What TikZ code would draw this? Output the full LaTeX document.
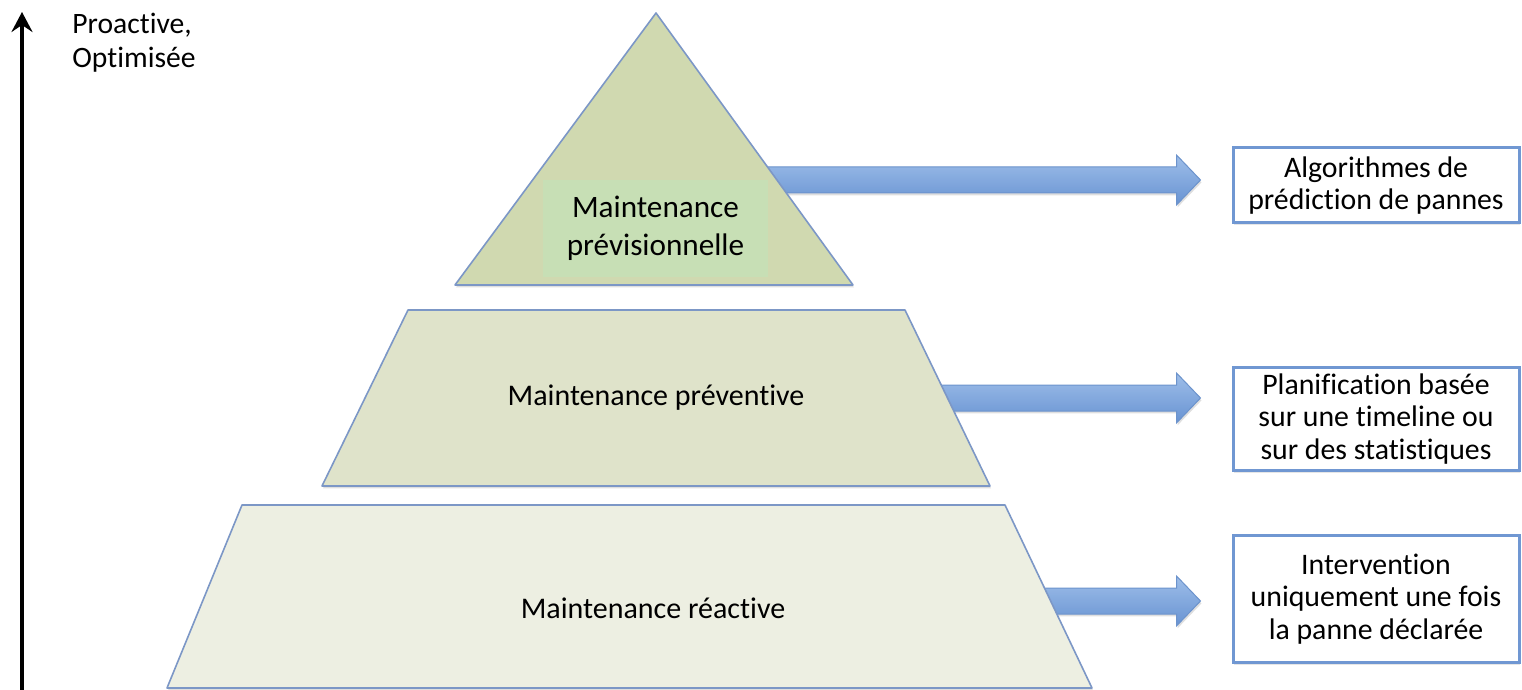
\documentclass[tikz,border=0pt]{standalone}
\usepackage{fontspec}
\setmainfont{Carlito}[Ligatures={NoCommon,NoContextual}]
\usetikzlibrary{calc, arrows.meta, shadows}
\definecolor{EdgeBlue}{HTML}{7C97C6}
\definecolor{BoxBlue}{HTML}{7097D2}
\definecolor{ArrowLight}{HTML}{9EBEE9}
\definecolor{ArrowDark}{HTML}{6893D2}
\definecolor{ArrowEdge}{HTML}{6C93CC}
\definecolor{TopGreen}{HTML}{D0D9B0}
\definecolor{LabelGreen}{HTML}{C7DFB5}
\definecolor{MidGreen}{HTML}{DFE3CA}
\definecolor{LowGreen}{HTML}{EDEFE2}
\newcommand{\Px}{0.5pt}
\def\Boxes{1/599/127/{Intervention\\uniquement une fois\\la panne déclarée}, 2/419/103/{Planification basée\\sur une timeline ou\\sur des statistiques}, 3/185.5/75/{Algorithmes de\\prédiction de pannes}}
\tikzset{
	Level/.style={
		draw=EdgeBlue,
		line width=0.8pt,
		line join=round,
		drop shadow={shadow xshift=0.5pt, shadow yshift=-1.2pt, opacity=0.25},
	},
	LevelText/.style={
		inner sep=0pt,
		align=center,
		font=\fontsize{15}{18}\selectfont,
	},
	Box/.style={
		draw=BoxBlue,
		line width=1.5pt,
		fill=white,
		align=center,
		inner sep=0pt,
		minimum width=143pt,
		font=\fontsize{14.9}{16.2}\selectfont,
		drop shadow={shadow xshift=0.5pt, shadow yshift=-1pt, opacity=0.2},
	},
	Arrow/.style={
		draw=ArrowEdge,
		line width=0.5pt,
		top color=ArrowLight,
		bottom color=ArrowDark,
		drop shadow={shadow xshift=0.5pt, shadow yshift=-1.2pt, opacity=0.25},
	},
}
\newcommand{\BlockArrow}[2]{%
	\path[Arrow] let \p1=(#1), \p2=($(#2.west)+(-31,0)$) in
		(\x1,\y1-6.5pt) -- (\x2-12pt,\y1-6.5pt) -- (\x2-12pt,\y1-12.5pt) -- (\x2,\y1)
		-- (\x2-12pt,\y1+12.5pt) -- (\x2-12pt,\y1+6.5pt) -- (\x1,\y1+6.5pt) -- cycle;
}

\begin{document}
\begin{tikzpicture}[x=\Px, y=-\Px]
	\useasboundingbox (0,0) rectangle (1522,690);
	% axis
	\coordinate (axisfoot) at (22,690);
	\coordinate (axishead) at (22,12);
	\draw[line width=2pt, -{Stealth[length=10pt, width=10.5pt, inset=3.5pt]}] (axisfoot) -- (axishead);
	\node[inner sep=0pt, anchor=north west, align=left, font=\fontsize{14.8}{17}\selectfont] (axislabel) at (72,13) {Proactive,\\Optimisée};

	\foreach \lvl/\y/\h/\txt in \Boxes {%
		\node[Box, minimum height=\h*\Px] (box\lvl) at (1376,\y) {\txt};
	}
	\coordinate (from1) at (1000,601);
	\coordinate (from2) at (880,398);
	\coordinate (from3) at (720,180);
	\foreach \lvl in {1,2,3} {%
		\BlockArrow{from\lvl}{box\lvl}
	}

	% pyramid
	\draw[Level, fill=LowGreen] (242,505) -- (1005,505) -- (1092,688) -- (167,688) -- cycle;
	\draw[Level, fill=MidGreen] (408,310) -- (905,310) -- (990,486) -- (322,486) -- cycle;
	\draw[Level, fill=TopGreen] (656,13) -- (853,285) -- (455,285) -- cycle;
	\node[LevelText] (lvl1) at (653,608) {Maintenance réactive};
	\node[LevelText] (lvl2) at (656,398) {Maintenance préventive};
	\node[LevelText, fill=LabelGreen, minimum width=112.5pt, minimum height=48.5pt,
		font=\fontsize{15.6}{18.8}\selectfont] (lvl3) at (655.5,228.5) {Maintenance\\prévisionnelle};
\end{tikzpicture}
\end{document}
